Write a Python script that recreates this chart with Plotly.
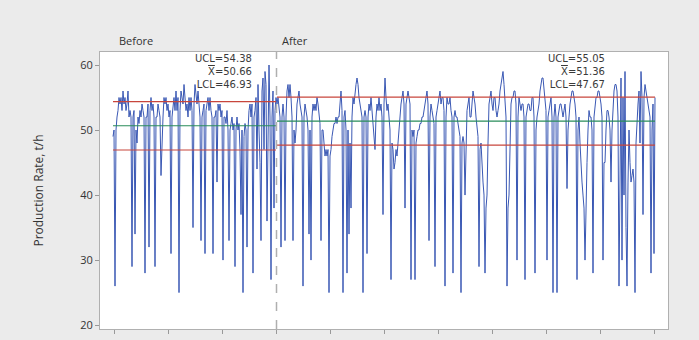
import plotly.graph_objects as go

# Production rate readings (t/h), in time order
before_values = [
    49, 50, 26, 50, 52, 53, 55, 54, 55, 53, 56, 54, 55, 53, 54, 56, 52, 53, 52, 29,
    52, 53, 34, 50, 48, 52, 51, 53, 52, 54, 53, 52, 28, 52, 52, 54, 32, 53, 55, 53,
    54, 52, 29, 52, 52, 54, 53, 52, 43, 50, 52, 55, 54, 55, 53, 54, 52, 53, 31, 52,
    54, 55, 53, 56, 53, 55, 25, 53, 56, 55, 54, 57, 55, 53, 54, 52, 55, 53, 55, 53,
    35, 54, 57, 55, 54, 56, 54, 52, 33, 52, 53, 54, 31, 53, 54, 55, 53, 55, 53, 52,
    31, 52, 52, 53, 42, 54, 53, 54, 52, 53, 30, 52, 52, 51, 53, 50, 33, 50, 51, 52,
    50, 51, 29, 50, 52, 50, 51, 47, 37, 50, 25, 49, 51, 50, 32, 50, 53, 54, 52, 54,
    28, 52, 53, 55, 44, 57, 50, 45, 33, 56, 58, 47, 59, 57, 36, 55, 60, 52, 27, 52,
    56, 38, 53, 55,
]
after_values = [
    54, 55, 53, 52, 32, 52, 54, 52, 33, 52, 56, 57, 55, 57, 55, 52, 33, 50, 48, 50,
    54, 55, 56, 54, 53, 52, 26, 52, 54, 53, 52, 50, 34, 50, 30, 52, 54, 53, 54, 53,
    55, 54, 52, 51, 33, 50, 50, 47, 46, 47, 46, 47, 25, 46, 47, 49, 50, 51, 51, 52,
    51, 52, 52, 54, 56, 53, 25, 52, 53, 50, 28, 50, 34, 48, 38, 52, 55, 54, 56, 57,
    58, 57, 55, 54, 53, 52, 25, 52, 53, 52, 31, 52, 54, 53, 55, 53, 52, 50, 47, 52,
    54, 53, 55, 53, 54, 52, 37, 54, 58, 55, 53, 54, 52, 50, 27, 48, 47, 44, 45, 47,
    46, 48, 51, 53, 54, 55, 56, 54, 38, 54, 55, 56, 55, 54, 27, 50, 49, 50, 27, 48,
    49, 50, 50, 51, 51, 52, 52, 53, 54, 55, 56, 54, 33, 52, 54, 53, 52, 51, 29, 52,
    53, 54, 55, 56, 54, 55, 55, 53, 26, 52, 55, 54, 54, 55, 53, 52, 28, 52, 53, 52,
    52, 51, 50, 49, 25, 48, 49, 48, 40, 50, 53, 54, 55, 52, 52, 54, 56, 55, 54, 52,
    50, 49, 29, 47, 48, 44, 42, 40, 28, 38, 40, 48, 54, 55, 56, 54, 53, 55, 55, 53,
    52, 53, 54, 56, 57, 58, 59, 57, 55, 52, 26, 38, 40, 50, 54, 55, 55, 56, 56, 54,
    30, 52, 55, 54, 53, 54, 54, 52, 27, 52, 53, 54, 54, 53, 53, 55, 55, 52, 28, 50,
    52, 53, 54, 56, 57, 58, 58, 56, 55, 53, 30, 52, 53, 54, 55, 52, 25, 52, 54, 52,
    25, 52, 53, 54, 54, 53, 52, 53, 54, 52, 41, 50, 53, 54, 55, 56, 56, 55, 54, 52,
    27, 50, 52, 48, 44, 42, 40, 38, 30, 42, 45, 50, 53, 52, 52, 50, 28, 52, 54, 55,
    55, 56, 56, 55, 54, 52, 30, 45, 45, 50, 53, 53, 52, 50, 42, 50, 54, 56, 57, 57,
    56, 52, 26, 50, 58, 30, 55, 40, 59, 35, 26, 42, 50, 45, 42, 43, 44, 42, 25, 48,
    52, 54, 56, 48, 59, 55, 37, 55, 57, 56, 55, 54, 53, 52, 28, 50, 54, 31, 55,
]
stages = ["Before", "After"]
ucl = [54.38, 55.05]
center = [50.66, 51.36]
lcl = [46.93, 47.67]
y_ticks = [20, 30, 40, 50, 60]
y_title = "Production Rate, t/h"

values = before_values + after_values
obs = list(range(1, len(values) + 1))
n_before = len(before_values)

fig = go.Figure()
fig.add_trace(go.Scatter(x=obs, y=values, mode="lines",
                         line=dict(color="rgb(58,88,180)", width=1), hoverinfo="skip"))

stage_x = [(obs[0], obs[n_before - 1]), (obs[n_before], obs[-1])]
for k, (x0, x1) in enumerate(stage_x):
    for val, col in ((ucl[k], "rgb(200,70,60)"), (lcl[k], "rgb(200,70,60)"), (center[k], "rgb(40,140,90)")):
        fig.add_trace(go.Scatter(x=[x0, x1], y=[val, val], mode="lines",
                                 line=dict(color=col, width=1.2), hoverinfo="skip"))

split_x = obs[n_before] - 0.5
fig.add_shape(type="line", xref="x", yref="paper", x0=split_x, x1=split_x, y0=0, y1=1,
              line=dict(color="rgb(175,175,175)", width=1.5, dash="dash"))

font = dict(family="Open Sans, Noto Sans, sans-serif", size=11, color="#333333")
lab_font = dict(family="DejaVu Sans, sans-serif", size=10, color="#3a3a3a")
# Stage labels
fig.add_annotation(x=obs[0] + 4, y=1.0, xref="x", yref="paper", text=stages[0], showarrow=False,
                   xanchor="left", yanchor="bottom", yshift=2, font=font)
fig.add_annotation(x=obs[n_before] + 3, y=1.0, xref="x", yref="paper", text=stages[1], showarrow=False,
                   xanchor="left", yanchor="bottom", yshift=2, font=font)

label_x = [obs[n_before - 1] - 23, obs[-1] - 49]
for k in range(2):
    text = (f"UCL={ucl[k]:.2f}<br>"
            f"<span style='text-decoration:overline'>X</span>={center[k]:.2f}<br>"
            f"LCL={lcl[k]:.2f}")
    fig.add_annotation(x=label_x[k], y=1.0, xref="x", yref="paper", text=text, showarrow=False,
                       xanchor="right", yanchor="top", align="right", yshift=0, borderpad=0,
                       font=lab_font)

fig.update_layout(
    width=699, height=340,
    margin=dict(l=100, r=31, t=52, b=7),
    paper_bgcolor="#ebebeb", plot_bgcolor="white",
    showlegend=False,
    xaxis=dict(range=[-12, 556], tickvals=[2 + 54 * k for k in range(11)], showticklabels=False,
               ticks="outside", ticklen=4, tickcolor="#999999", showgrid=False, zeroline=False,
               showline=True, linecolor="#b0b0b0", mirror=True),
    yaxis=dict(range=[19.4, 62], tickvals=y_ticks, ticks="outside", ticklen=4, tickcolor="#999999",
               showgrid=False, zeroline=False, showline=True, linecolor="#b0b0b0", mirror=True,
               tickfont=dict(family="Open Sans, Noto Sans, sans-serif", size=11, color="#333333"),
               title=dict(text=y_title, standoff=34,
                          font=dict(family="Open Sans, Noto Sans, sans-serif", size=12, color="#333333"))),
)
fig.write_html("out.html")
